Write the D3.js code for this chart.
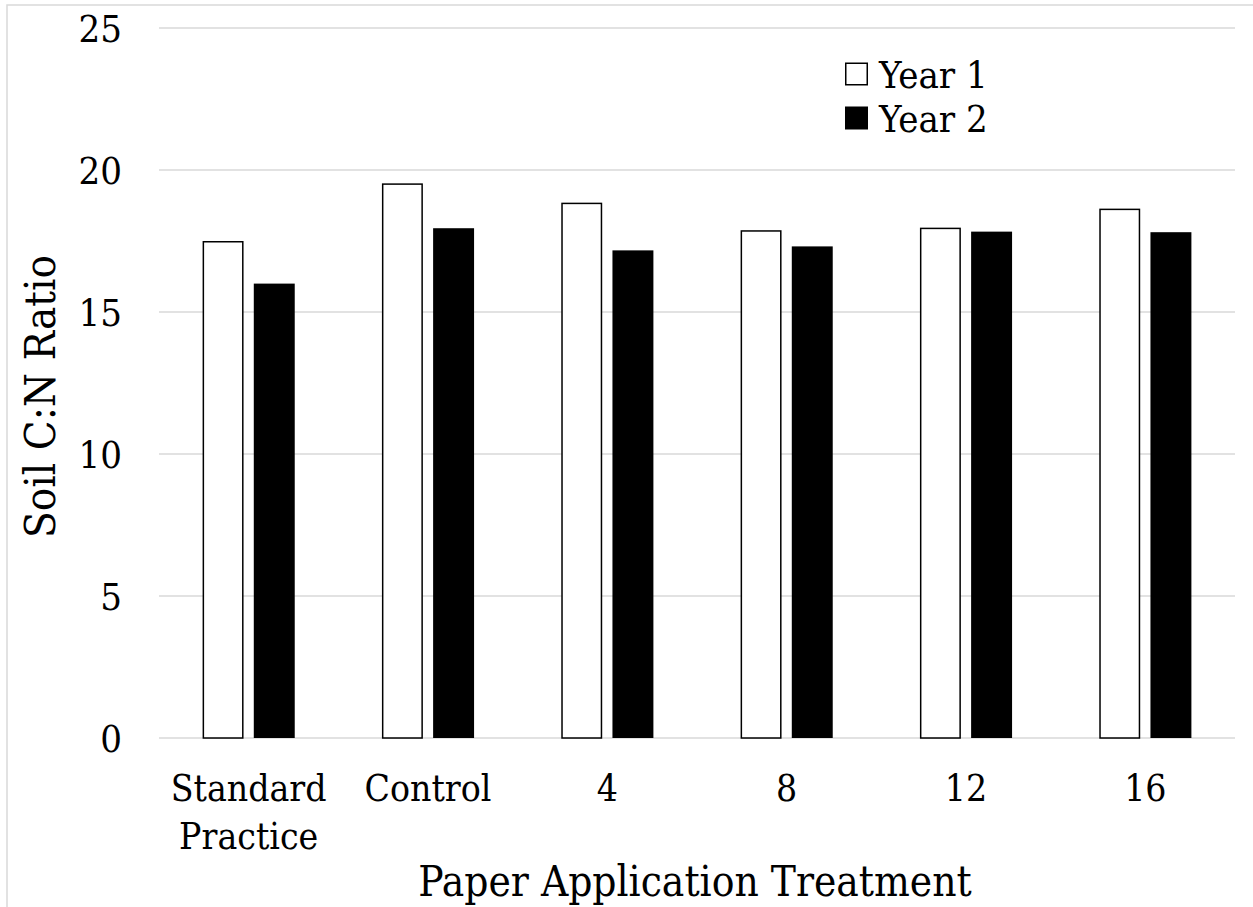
<!DOCTYPE html>
<html>
<head>
<meta charset="utf-8">
<script src="https://cdn.jsdelivr.net/npm/d3@7"></script>
<style>
  html, body { margin: 0; padding: 0; background: #fff; }
  svg { display: block; }
</style>
</head>
<body>
<svg id="chart" width="1253" height="907"></svg>
<script>
// Soil C:N ratio by paper application treatment
const categories = [["Standard", "Practice"], ["Control"], ["4"], ["8"], ["12"], ["16"]];
const seriesNames = ["Year 1", "Year 2"];
const year1 = [17.5, 19.53, 18.85, 17.88, 17.97, 18.64];
const year2 = [16.0, 17.95, 17.17, 17.31, 17.83, 17.81];
const yTicks = [0, 5, 10, 15, 20, 25];
const yTitle = "Soil C:N Ratio";
const xTitle = "Paper Application Treatment";

const FONT = "'DejaVu Serif Condensed', 'DejaVu Serif', serif";

const svg = d3.select("#chart")
  .style("font-family", FONT)
  .style("font-stretch", "condensed");
const plot = { left: 159, right: 1235, top: 28, bottom: 738 };

// chart frame
svg.append("rect")
  .attr("x", 7).attr("y", 5)
  .attr("width", 1260).attr("height", 920)
  .attr("fill", "none").attr("stroke", "#d9d9d9").attr("stroke-width", 1.5);

const x = d3.scaleBand()
  .domain(d3.range(categories.length))
  .range([plot.left, plot.right])
  .paddingInner(0).paddingOuter(0);

const inner = d3.scaleBand()
  .domain(seriesNames)
  .range([43.6, x.bandwidth() - 43.6])
  .paddingInner(0.2);

const y = d3.scaleLinear().domain([0, 25]).range([plot.bottom, plot.top]);

// horizontal gridlines
svg.append("g")
  .selectAll("line")
  .data(yTicks)
  .join("line")
  .attr("x1", plot.left).attr("x2", plot.right)
  .attr("y1", d => y(d)).attr("y2", d => y(d))
  .attr("stroke", "#d9d9d9").attr("stroke-width", 1.5);

// y tick labels
svg.append("g")
  .selectAll("text")
  .data(yTicks)
  .join("text")
  .attr("x", 122)
  .attr("y", d => y(d))
  .attr("dy", "0.36em")
  .attr("text-anchor", "end")
  .attr("font-size", 38)
  .text(d => d);

// bars
const rows = categories.map((c, i) => ({ i, values: [year1[i], year2[i]] }));
const groups = svg.append("g")
  .selectAll("g")
  .data(rows)
  .join("g")
  .attr("transform", d => `translate(${x(d.i)},0)`);

groups.selectAll("rect")
  .data(d => d.values.map((v, k) => ({ name: seriesNames[k], v })))
  .join("rect")
  .attr("x", d => inner(d.name) + (d.name === "Year 1" ? 0.75 : 0))
  .attr("y", d => y(d.v) + (d.name === "Year 1" ? 0.75 : 0))
  .attr("width", d => inner.bandwidth() - (d.name === "Year 1" ? 1.5 : 0))
  .attr("height", d => y(0) - y(d.v) - (d.name === "Year 1" ? 0.75 : 0))
  .attr("fill", d => d.name === "Year 1" ? "#fff" : "#000")
  .attr("stroke", d => d.name === "Year 1" ? "#000" : "none")
  .attr("stroke-width", 1.5);

// x category labels
const xl = svg.append("g")
  .selectAll("text")
  .data(categories.map((c, i) => ({ c, i })))
  .join("text")
  .attr("x", d => x(d.i) + x.bandwidth() / 2)
  .attr("y", 801)
  .attr("text-anchor", "middle")
  .attr("font-size", 37);
xl.selectAll("tspan")
  .data(d => d.c.map(line => ({ line, cx: x(d.i) + x.bandwidth() / 2 })))
  .join("tspan")
  .attr("x", d => d.cx)
  .attr("dy", (d, k) => k === 0 ? 0 : 48)
  .text(d => d.line);

// axis titles
svg.append("text")
  .attr("x", (plot.left + plot.right) / 2 - 2)
  .attr("y", 896)
  .attr("text-anchor", "middle")
  .attr("font-size", 42)
  .text(xTitle);

svg.append("text")
  .attr("transform", "translate(55,396.5) rotate(-90)")
  .attr("text-anchor", "middle")
  .attr("font-size", 43.5)
  .text(yTitle);

// legend
const legend = svg.append("g")
  .selectAll("g")
  .data(seriesNames)
  .join("g")
  .attr("transform", (d, k) => `translate(845,${62.5 + k * 44})`);
legend.append("rect")
  .attr("x", d => d === "Year 1" ? 0.75 : 0)
  .attr("y", d => d === "Year 1" ? 0.75 : 0)
  .attr("width", d => d === "Year 1" ? 21.5 : 23)
  .attr("height", d => d === "Year 1" ? 21.5 : 23)
  .attr("fill", d => d === "Year 1" ? "#fff" : "#000")
  .attr("stroke", d => d === "Year 1" ? "#000" : "none")
  .attr("stroke-width", 1.5);
legend.append("text")
  .attr("x", 34)
  .attr("y", 25)
  .attr("font-size", 38)
  .text(d => d);
</script>
</body>
</html>
